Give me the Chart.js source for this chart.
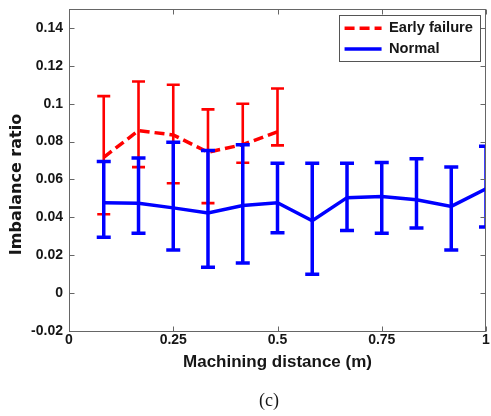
<!DOCTYPE html>
<html><head><meta charset="utf-8">
<script src="https://cdn.jsdelivr.net/npm/chart.js@4.4.1/dist/chart.umd.min.js"></script>
<style>html,body{margin:0;padding:0;background:#fff;}canvas{display:block;}</style>
</head><body>
<canvas id="c" width="491" height="416"></canvas>
<script>
// ---- data ----
const distance = [0.0833, 0.1667, 0.25, 0.3333, 0.4167, 0.5, 0.5833, 0.6667, 0.75, 0.8333, 0.9167, 1.0];
const seriesNames = ['Early failure', 'Normal'];
const earlyMean  = [0.0717, 0.0858, 0.0835, 0.0744, 0.0784, 0.0852];
const earlyUpper = [0.1040, 0.1117, 0.1100, 0.0970, 0.1000, 0.1080];
const earlyLower = [0.0416, 0.0665, 0.0580, 0.0475, 0.0688, 0.0780];
const normalMean  = [0.0477, 0.0475, 0.0450, 0.0423, 0.0463, 0.0477, 0.0382, 0.0504, 0.0510, 0.0493, 0.0458, 0.0551];
const normalUpper = [0.0695, 0.0714, 0.0797, 0.0753, 0.0783, 0.0686, 0.0686, 0.0686, 0.0690, 0.0709, 0.0666, 0.0776];
const normalLower = [0.0295, 0.0316, 0.0228, 0.0137, 0.0159, 0.0319, 0.0100, 0.0330, 0.0316, 0.0344, 0.0228, 0.0349];
const yTickValues = [-0.02, 0, 0.02, 0.04, 0.06, 0.08, 0.1, 0.12, 0.14];
const yTickLabels = ['-0.02', '0', '0.02', '0.04', '0.06', '0.08', '0.1', '0.12', '0.14'];
const xTickValues = [0, 0.25, 0.5, 0.75, 1];
const xTickLabels = ['0', '0.25', '0.5', '0.75', '1'];
const xTitle = 'Machining distance (m)';
const yTitle = 'Imbalance ratio';
const caption = '(c)';

// ---- helpers ----
const RED = '#ff0000', BLUE = '#0000ff', AXIS = '#666666', TXT = '#161616';
const pts = (ys) => ys.map((y, i) => ({x: distance[i], y}));
const bars = (lo, hi) => lo.flatMap((l, i) => [{x: distance[i], y: l}, {x: distance[i], y: hi[i]}, {x: distance[i], y: null}]);
const lab = (vals, labels, v) => { const i = vals.findIndex(t => Math.abs(t - v) < 1e-9); return i >= 0 ? labels[i] : ''; };

const framePlugin = {
  id: 'framePlugin',
  afterInit(chart) {
    const lg = chart.legend;
    if (lg && !lg._patched) {
      const fit0 = lg.fit;
      lg.fit = function () { fit0.call(this); this.width = 0; this.height = 0; };
      lg._patched = true;
    }
  },
  afterLayout(chart) {
    const ca = chart.chartArea;
    const lg = chart.legend;
    if (lg && lg.columnSizes && lg.columnSizes.length) {
      const pad = lg.options.labels.padding;
      const fs = lg.options.labels.font.size;
      const w = lg.columnSizes[0].width + 2 * pad + 1;
      const h = 2 * fs + 3 * pad - 1;
      const bx = ca.right - 6 - w, by = ca.top + 6;
      lg.left = bx; lg.right = bx + w; lg.top = by; lg.bottom = by + h + 30;
      lg.width = w; lg.height = h + 30;
      chart.$lbox = {x: bx, y: by, w, h};
    }
    const ys = chart.scales.y;
    ys.top += 14.5; ys.bottom += 14.5;
    const tb = chart.titleBlock;
    if (tb) { tb.left = ca.left - 8.5; tb.right = ca.right - 8.5; }
  },
  afterDatasetsDraw(chart) {
    const {ctx, chartArea: ca, scales: {x, y}} = chart;
    const L = Math.round(ca.left) + 0.5, R = Math.round(ca.right) - 0.5;
    const T = Math.round(ca.top) + 0.5, B = Math.round(ca.bottom) + 0.5;
    const tk = 5;
    ctx.save();
    ctx.strokeStyle = AXIS; ctx.lineWidth = 1; ctx.setLineDash([]);
    ctx.strokeRect(L, T, R - L, B - T);
    ctx.beginPath();
    y.ticks.forEach(t => {
      const py = Math.round(y.getPixelForValue(t.value)) + 0.5;
      ctx.moveTo(L, py); ctx.lineTo(L + tk, py);
      ctx.moveTo(R, py); ctx.lineTo(R - tk, py);
    });
    x.ticks.forEach(t => {
      const px = Math.round(x.getPixelForValue(t.value)) + 0.5;
      ctx.moveTo(px, B); ctx.lineTo(px, B - tk);
      ctx.moveTo(px, T); ctx.lineTo(px, T + tk);
    });
    ctx.stroke();
    ctx.restore();
  },
  afterDraw(chart) {
    const b = chart.$lbox;
    if (!b) return;
    const ctx = chart.ctx;
    ctx.save();
    ctx.strokeStyle = '#555'; ctx.lineWidth = 1; ctx.setLineDash([]);
    ctx.strokeRect(Math.round(b.x) + 0.5, Math.round(b.y) + 0.5, Math.round(b.w), Math.round(b.h));
    ctx.restore();
  }
};

const tickFont = {family: 'Liberation Sans', size: 14, weight: 'bold'};

new Chart(document.getElementById('c'), {
  type: 'line',
  data: {
    datasets: [
      {label: seriesNames[0], data: pts(earlyMean), borderColor: RED, backgroundColor: RED,
       borderWidth: 3.5, borderDash: [10, 5], pointRadius: 0, pointHoverRadius: 0, tension: 0, order: 3, clip: 0},
      {label: seriesNames[1], data: pts(normalMean), borderColor: BLUE, backgroundColor: BLUE,
       borderWidth: 3.5, pointRadius: 0, pointHoverRadius: 0, tension: 0, order: 1, clip: 0},
      {label: seriesNames[0] + ' range', data: bars(earlyLower, earlyUpper), borderColor: RED, backgroundColor: RED,
       borderWidth: 2.6, pointStyle: 'line', pointRadius: 6.5, pointBorderWidth: 2.6, pointBorderColor: RED,
       pointHoverRadius: 6.5, spanGaps: false, tension: 0, order: 4, clip: 0},
      {label: seriesNames[1] + ' range', data: bars(normalLower, normalUpper), borderColor: BLUE, backgroundColor: BLUE,
       borderWidth: 3.5, pointStyle: 'line', pointRadius: 7, pointBorderWidth: 3.5, pointBorderColor: BLUE,
       pointHoverRadius: 7, spanGaps: false, tension: 0, order: 2, clip: 0}
    ]
  },
  options: {
    responsive: false, animation: false, devicePixelRatio: 1, events: [],
    layout: {autoPadding: false, padding: {left: 0, right: 5, top: 9, bottom: 0}},
    scales: {
      x: {
        type: 'linear', min: 0, max: 1,
        afterBuildTicks: s => { s.ticks = xTickValues.map(v => ({value: v})); },
        afterFit: s => { s.height = 55.4; s.paddingLeft = 0; s.paddingRight = 0; },
        grid: {display: false, drawTicks: false}, border: {display: false},
        ticks: {autoSkip: false, maxRotation: 0, padding: 1, color: TXT, font: tickFont,
                callback: v => lab(xTickValues, xTickLabels, v)},
        title: {display: true, text: xTitle, color: TXT,
                font: {family: 'Liberation Sans', size: 17, weight: 'bold'}, padding: {top: 0, bottom: 14}}
      },
      y: {
        type: 'linear', min: -0.02, max: 0.15,
        afterBuildTicks: s => { s.ticks = yTickValues.map(v => ({value: v})); },
        afterFit: s => { s.width = 69; s.paddingTop = 0; s.paddingBottom = 0; },
        grid: {display: false, drawTicks: false}, border: {display: false},
        ticks: {autoSkip: false, padding: 6, color: TXT, font: tickFont,
                callback: v => lab(yTickValues, yTickLabels, v)},
        title: {display: true, text: yTitle, color: TXT,
                font: {family: 'DejaVu Sans', size: 16, weight: 'bold'}, padding: {top: 7, bottom: 0}}
      }
    },
    plugins: {
      legend: {
        position: 'right', align: 'start',
        labels: {
          usePointStyle: true, pointStyle: 'line', pointStyleWidth: 37, padding: 6, color: TXT, textAlign: 'left',
          font: {family: 'Liberation Sans', size: 14.7, weight: 'bold'},
          generateLabels: (chart) => Chart.defaults.plugins.legend.labels.generateLabels(chart)
            .filter(it => it.datasetIndex < 2)
            .sort((a, b) => a.datasetIndex - b.datasetIndex)
            .map(it => {
              const ds = chart.data.datasets[it.datasetIndex];
              return Object.assign({}, it, {lineDash: ds.borderDash || [], lineWidth: ds.borderWidth,
                strokeStyle: ds.borderColor, fillStyle: ds.borderColor, pointStyle: 'line', fontColor: TXT});
            })
        }
      },
      title: {display: true, position: 'bottom', fullSize: false, text: caption, color: TXT,
              font: {family: 'Liberation Serif', size: 18, weight: 'normal'}, padding: {top: 4, bottom: 4}},
      tooltip: {enabled: false}
    }
  },
  plugins: [framePlugin]
});
</script>
</body></html>
